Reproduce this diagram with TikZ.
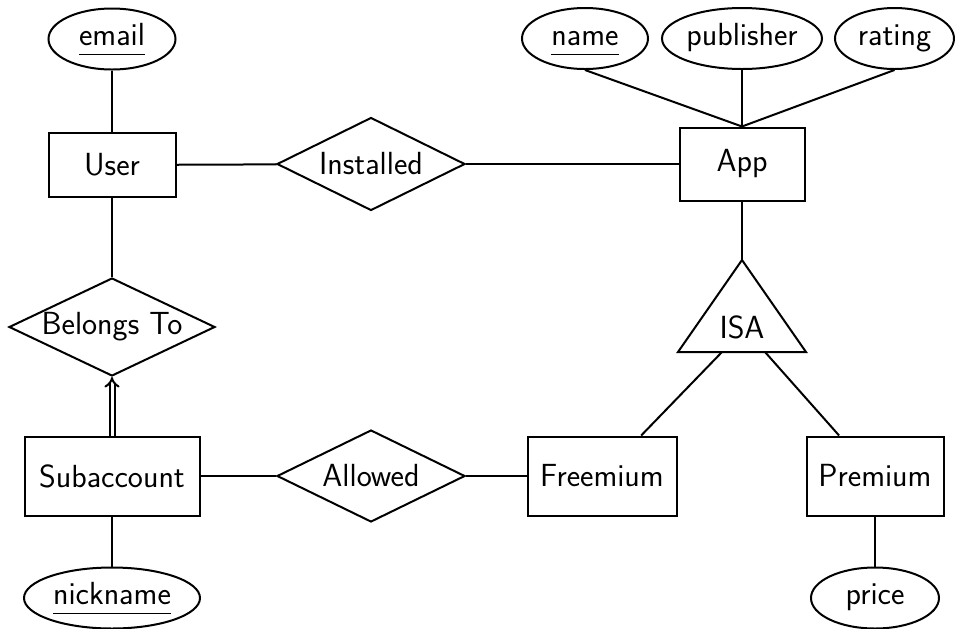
\documentclass[tikz,border=0pt]{standalone}
\usepackage{fontspec}
\usetikzlibrary{shapes.geometric,arrows.meta}
\newdimen\pxu \pxu=0.5pt
\newcommand{\zb}[1]{\makebox[0pt]{#1}}
\newcommand{\keyul}[1]{\underline{\smash{#1}\vphantom{g}}}
\begin{document}
\begin{tikzpicture}[x=0.5pt,y=-0.5pt, line width=1pt,
 every node/.style={font=\sffamily\fontsize{16}{19}\selectfont},
 ent/.style={draw, rectangle, inner sep=0},
 rel/.style={draw, diamond, inner sep=0, aspect=2},
 attr/.style={draw, ellipse, inner sep=0, text height=9pt, text depth=2.5pt}]
\useasboundingbox (0,0) rectangle (955,628);
% entities
\node[ent, minimum width=127\pxu, minimum height=64\pxu] (user) at (112,165) {\zb{User}};
\node[ent, minimum width=125\pxu, minimum height=73\pxu] (app) at (742,164) {\zb{App}};
\node[ent, minimum width=175\pxu, minimum height=79\pxu] (sub) at (112,476) {\zb{Subaccount}};
\node[ent, minimum width=149\pxu, minimum height=79\pxu] (free) at (602,476) {\zb{Freemium}};
\node[ent, minimum width=137\pxu, minimum height=79\pxu] (prem) at (875,476) {\zb{Premium}};
% relationships
\node[rel, minimum width=188\pxu, minimum height=93\pxu] (inst) at (371,164) {\zb{Installed}};
\node[rel, minimum width=206\pxu, minimum height=98\pxu] (bel) at (112,327) {\zb{Belongs To}};
\node[rel, minimum width=188\pxu, minimum height=92\pxu] (allow) at (371,476) {\zb{Allowed}};
% attributes
\node[attr, minimum width=127\pxu, minimum height=61\pxu] (email) at (112,39) {\zb{\keyul{email}}};
\node[attr, minimum width=126\pxu, minimum height=61\pxu] (name) at (585,38.5) {\zb{\keyul{name}}};
\node[attr, minimum width=160\pxu, minimum height=61\pxu] (pub) at (742,38.5) {\zb{publisher}};
\node[attr, minimum width=119\pxu, minimum height=61\pxu] (rating) at (894.5,38.5) {\zb{rating}};
\node[attr, minimum width=176\pxu, minimum height=61\pxu] (nick) at (112,598) {\zb{\keyul{nickname}}};
\node[attr, minimum width=128\pxu, minimum height=61\pxu] (price) at (875,598) {\zb{price}};
% ISA triangle
\coordinate (isatop) at (742,260);
\coordinate (isabl) at (678,352);
\coordinate (isabr) at (806,352);
\coordinate (isaL) at (722,352);
\coordinate (isaR) at (765,352);
\draw (isatop) -- (isabl) -- (isabr) -- cycle;
\node (isa) at (742,327) {ISA};
% connectors
\draw (email) -- (user);
\draw (user) -- (inst);
\draw (inst) -- (app);
\draw (app.north) -- (name.south);
\draw (app.north) -- (pub.south);
\draw (app.north) -- (rating.south);
\draw (app) -- (isatop);
\draw (user) -- (bel);
\draw[double, double distance=1.5pt, -{Implies}] (sub) -- (bel);
\draw (sub) -- (allow);
\draw (allow) -- (free);
\draw (isaL) -- (free);
\draw (isaR) -- (prem);
\draw (sub) -- (nick);
\draw (prem) -- (price);
\end{tikzpicture}
\end{document}
